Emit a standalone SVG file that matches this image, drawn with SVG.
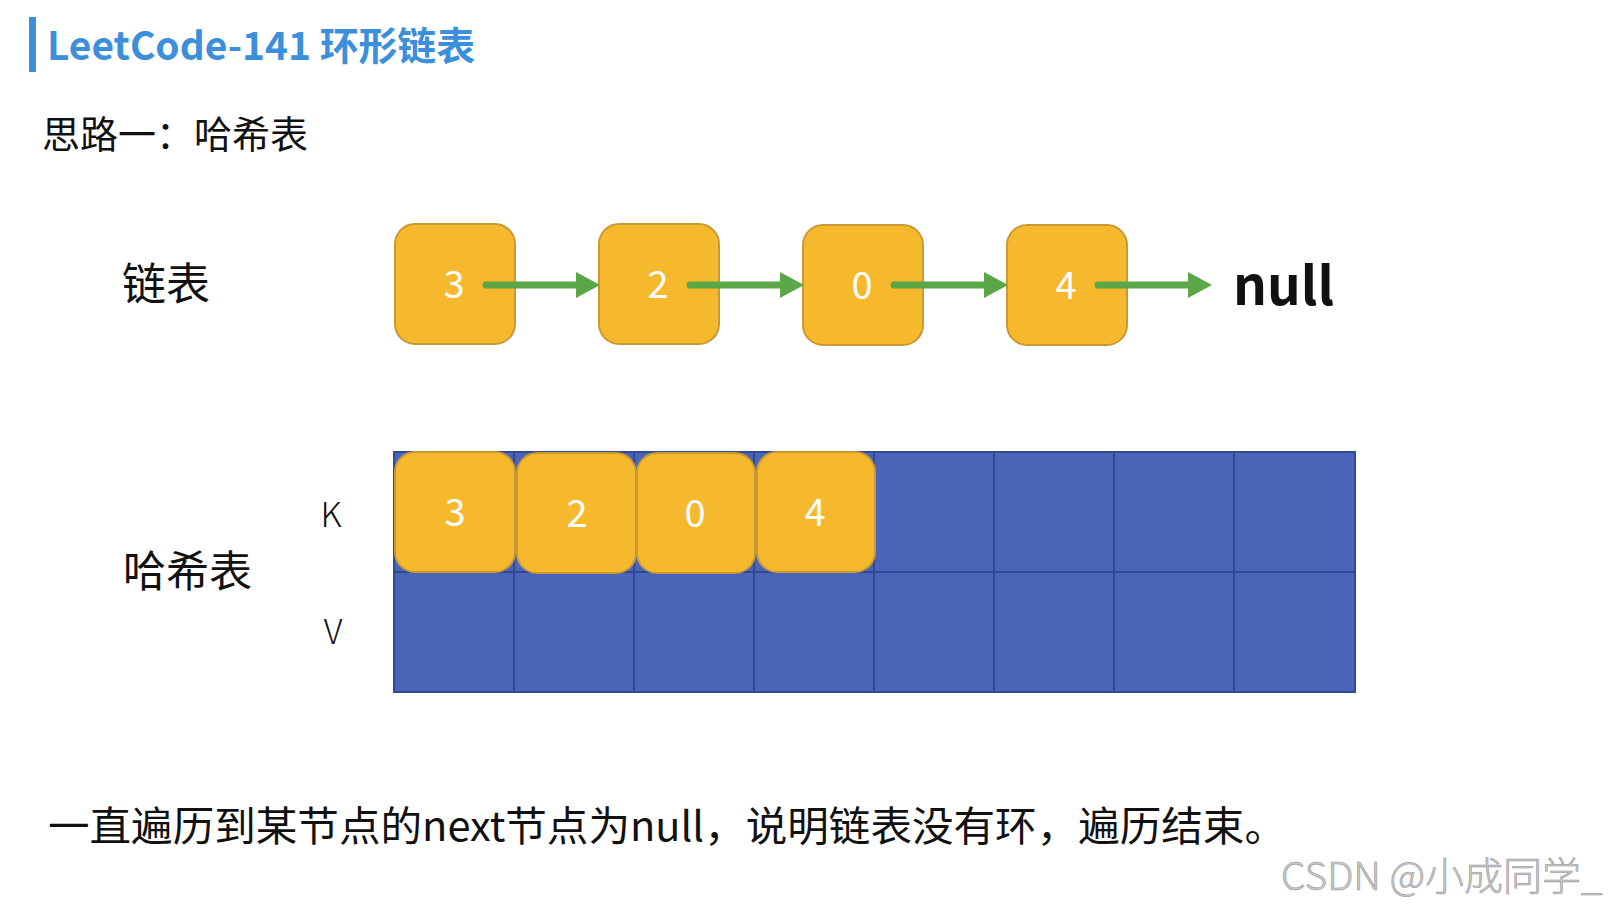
<svg xmlns="http://www.w3.org/2000/svg" width="1620" height="905" viewBox="0 0 1620 905">
<style>
.cjk{font-family:"Noto Sans CJK SC","Noto Sans",sans-serif;}
.title{font-size:39px;font-weight:700;fill:#3b8fdb;}
.label{fill:#111;}
.node rect{fill:#f6b92e;stroke:#c99a33;stroke-width:2;}
.node text{font-size:38px;fill:#fff;text-anchor:middle;font-family:"Noto Sans CJK SC","Noto Sans",sans-serif;font-weight:400;}
.conn line{stroke:#5ba646;stroke-width:7;stroke-linecap:round;}
.cell{fill:#4a64b7;stroke:#2f4a92;stroke-width:2;}
</style>
<defs>
<marker id="ah" markerWidth="24" markerHeight="26" refX="0" refY="13" orient="auto" markerUnits="userSpaceOnUse" viewBox="0 0 24 26">
<path d="M0,0 L24,13 L0,26 Z" fill="#5ba646"/>
</marker>
</defs>
<rect width="1620" height="905" fill="#fff"/>
<rect x="29" y="17" width="7" height="55" fill="#3b8fdb"/>
<text class="cjk title" x="47" y="60" textLength="428" lengthAdjust="spacingAndGlyphs">LeetCode-141 环形链表</text>
<text class="cjk label" x="42" y="148" font-size="38" textLength="266" lengthAdjust="spacingAndGlyphs">思路一：哈希表</text>
<text class="cjk label" x="122" y="300" font-size="44">链表</text>
<text class="cjk label" x="123" y="587" font-size="43">哈希表</text>
<text class="cjk" x="331" y="527" font-size="34" fill="#111" text-anchor="middle" font-weight="300">K</text>
<text class="cjk" x="333" y="644" font-size="34" fill="#111" text-anchor="middle" font-weight="300">V</text>

<g id="hashtable">
<rect class="cell" x="394" y="452" width="120" height="120"/>
<rect class="cell" x="514" y="452" width="120" height="120"/>
<rect class="cell" x="634" y="452" width="120" height="120"/>
<rect class="cell" x="754" y="452" width="120" height="120"/>
<rect class="cell" x="874" y="452" width="120" height="120"/>
<rect class="cell" x="994" y="452" width="120" height="120"/>
<rect class="cell" x="1114" y="452" width="120" height="120"/>
<rect class="cell" x="1234" y="452" width="121" height="120"/>
<rect class="cell" x="394" y="572" width="120" height="120"/>
<rect class="cell" x="514" y="572" width="120" height="120"/>
<rect class="cell" x="634" y="572" width="120" height="120"/>
<rect class="cell" x="754" y="572" width="120" height="120"/>
<rect class="cell" x="874" y="572" width="120" height="120"/>
<rect class="cell" x="994" y="572" width="120" height="120"/>
<rect class="cell" x="1114" y="572" width="120" height="120"/>
<rect class="cell" x="1234" y="572" width="121" height="120"/>
</g>

<g id="ll-3" class="node"><rect x="395" y="224" width="120" height="120" rx="20"/><text x="454" y="298">3</text></g>
<g id="ll-2" class="node"><rect x="599" y="224" width="120" height="120" rx="20"/><text x="658" y="298">2</text></g>
<g id="ll-0" class="node"><rect x="803" y="225" width="120" height="120" rx="20"/><text x="862" y="299">0</text></g>
<g id="ll-4" class="node"><rect x="1007" y="225" width="120" height="120" rx="20"/><text x="1066" y="299">4</text></g>
<text id="null" class="cjk" x="1233" y="305" font-size="53" font-weight="700" fill="#111">null</text>

<g id="hk-3" class="node"><rect x="395" y="452" width="120" height="120" rx="20"/><text x="455" y="526">3</text></g>
<g id="hk-2" class="node"><rect x="517" y="453" width="119" height="120" rx="20"/><text x="577" y="527">2</text></g>
<g id="hk-0" class="node"><rect x="637" y="453" width="118" height="120" rx="20"/><text x="695" y="527">0</text></g>
<g id="hk-4" class="node"><rect x="757" y="452" width="118" height="120" rx="20"/><text x="815" y="526">4</text></g>

<g id="connectors" class="conn">
<line x1="486" y1="285" x2="576" y2="285" marker-end="url(#ah)"/>
<line x1="690" y1="285" x2="780" y2="285" marker-end="url(#ah)"/>
<line x1="894" y1="285" x2="984" y2="285" marker-end="url(#ah)"/>
<line x1="1098" y1="285" x2="1188" y2="285" marker-end="url(#ah)"/>
</g>

<text class="cjk" x="48" y="841" font-size="41" fill="#111" textLength="1238" lengthAdjust="spacingAndGlyphs">一直遍历到某节点的next节点为null，说明链表没有环，遍历结束。</text>
<text class="cjk" x="1281" y="890" font-size="39" fill="#c8c8c8" stroke="#999" stroke-width="0.6" font-weight="300">CSDN @小成同学_</text>
</svg>
